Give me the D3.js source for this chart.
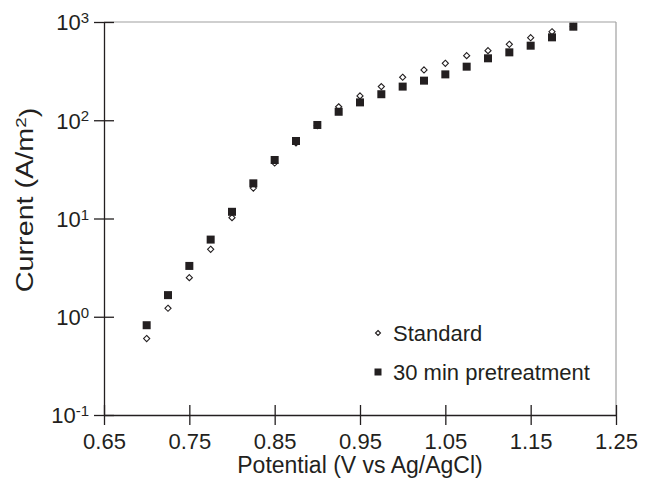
<!DOCTYPE html>
<html>
<head>
<meta charset="utf-8">
<script src="https://cdn.jsdelivr.net/npm/d3@7"></script>
<style>
  body { margin: 0; background: #fff; }
  text { font-family: "Liberation Sans", Arial, sans-serif; fill: #231f20; }
</style>
</head>
<body>
<svg id="mysvg" width="648" height="487"></svg>
<script>
// Data
const potential = [0.700, 0.725, 0.750, 0.775, 0.800, 0.825, 0.850, 0.875, 0.900, 0.925, 0.950,
  0.975, 1.000, 1.025, 1.050, 1.075, 1.100, 1.125, 1.150, 1.175, 1.200];
const standard = [0.60, 1.22, 2.5, 4.86, 10.2, 20.4, 36.7, 58.7, 88, 137, 177,
  220, 274, 325, 380, 454, 511, 593, 692, 796, 900];
const pretreat = [0.82, 1.66, 3.29, 6.1, 11.7, 22.8, 39.4, 61.5, 89.5, 122, 152,
  184, 220, 253, 293, 351, 427, 491, 574, 698, 896];
const xTicks = [0.65, 0.75, 0.85, 0.95, 1.05, 1.15, 1.25];
const yTicks = [0.1, 1, 10, 100, 1000];
const legendLabels = ['Standard', '30 min pretreatment'];

const margin = {top: 22, right: 32, bottom: 72, left: 104};
const width = 648, height = 487;
const innerWidth = width - margin.left - margin.right;
const innerHeight = height - margin.top - margin.bottom;

const svg = d3.select('#mysvg');
const g = svg.append('g')
  .attr('transform', `translate(${margin.left}, ${margin.top})`);

// Scales
const xScale = d3.scaleLinear()
  .domain([0.65, 1.25])
  .range([0, innerWidth]);

const yScale = d3.scaleLog()
  .domain([0.1, 1000])
  .range([innerHeight, 0]);

// Gray frame on top and right
g.append('line')
  .attr('x1', 0).attr('x2', innerWidth)
  .attr('y1', 0).attr('y2', 0)
  .attr('stroke', '#a0a0a0').attr('stroke-width', 1.2);
g.append('line')
  .attr('x1', innerWidth).attr('x2', innerWidth)
  .attr('y1', 0).attr('y2', innerHeight)
  .attr('stroke', '#a0a0a0').attr('stroke-width', 1.2);

// X axis
const xAxis = g.append('g')
  .attr('class', 'x-axis')
  .attr('transform', `translate(0, ${innerHeight})`)
  .call(d3.axisBottom(xScale)
    .tickValues(xTicks)
    .tickFormat(d3.format('.2f'))
    .tickSizeInner(10)
    .tickSizeOuter(0)
    .tickPadding(8));

// Y axis
const yAxis = g.append('g')
  .attr('class', 'y-axis')
  .call(d3.axisLeft(yScale)
    .tickValues(yTicks)
    .tickFormat(() => '')
    .tickSizeInner(10)
    .tickSizeOuter(0)
    .tickPadding(5));

// ticks cross the axis line
xAxis.selectAll('.tick line').attr('y1', -10);
yAxis.selectAll('.tick line').attr('x1', 10);
g.selectAll('.domain, .tick line').attr('stroke', '#231f20').attr('stroke-width', 1.3);

xAxis.selectAll('.tick text')
  .style('font-size', '22px')
  .attr('fill', '#231f20');

// Power-of-ten labels with superscript
yAxis.selectAll('.tick text')
  .style('font-size', '22px')
  .attr('fill', '#231f20')
  .attr('dy', '0.36em')
  .each(function(d) {
    const t = d3.select(this);
    t.append('tspan').text('10');
    t.append('tspan')
      .attr('dy', '-0.48em')
      .style('font-size', '15px')
      .text(Math.round(Math.log10(d)));
  });

// Axis titles
svg.append('text')
  .attr('x', margin.left + innerWidth / 2)
  .attr('y', 473)
  .attr('text-anchor', 'middle')
  .style('font-size', '23px')
  .text('Potential (V vs Ag/AgCl)');

const yTitle = svg.append('text')
  .attr('transform', `translate(33, 200) rotate(-90) scale(1.25, 1)`)
  .attr('text-anchor', 'middle')
  .style('font-size', '23px');
yTitle.append('tspan').text('Current (A/m');
yTitle.append('tspan').attr('dy', '-0.45em').style('font-size', '15px').text('2');
yTitle.append('tspan').attr('dy', '0.45em').text(')');

// Points: diamonds first, squares on top
const rows = potential.map((p, i) => ({p: p, s: standard[i], t: pretreat[i]}));

g.selectAll('.std-point')
  .data(rows)
  .join('path')
  .attr('class', 'std-point')
  .attr('d', d3.symbol(d3.symbolDiamond2, 24))
  .attr('transform', d => `translate(${xScale(d.p)}, ${yScale(d.s)})`)
  .attr('fill', '#fff')
  .attr('stroke', '#231f20')
  .attr('stroke-width', 1.1);

g.selectAll('.pre-point')
  .data(rows)
  .join('rect')
  .attr('class', 'pre-point')
  .attr('x', d => xScale(d.p) - 4)
  .attr('y', d => yScale(d.t) - 4)
  .attr('width', 8)
  .attr('height', 8)
  .attr('fill', '#231f20');

// Legend
const legend = g.selectAll('.legend')
  .data(legendLabels)
  .join('g')
  .attr('class', 'legend')
  .attr('transform', (d, i) => `translate(274, ${311 + i * 39})`);

legend.filter((d, i) => i === 0)
  .append('path')
  .attr('d', d3.symbol(d3.symbolDiamond2, 16))
  .attr('fill', '#fff')
  .attr('stroke', '#231f20')
  .attr('stroke-width', 1.1);

legend.filter((d, i) => i === 1)
  .append('rect')
  .attr('x', -3.5).attr('y', -3.5)
  .attr('width', 7).attr('height', 7)
  .attr('fill', '#231f20');

legend.append('text')
  .attr('x', 15)
  .attr('dy', '0.36em')
  .style('font-size', '22px')
  .text(d => d);
</script>
</body>
</html>
